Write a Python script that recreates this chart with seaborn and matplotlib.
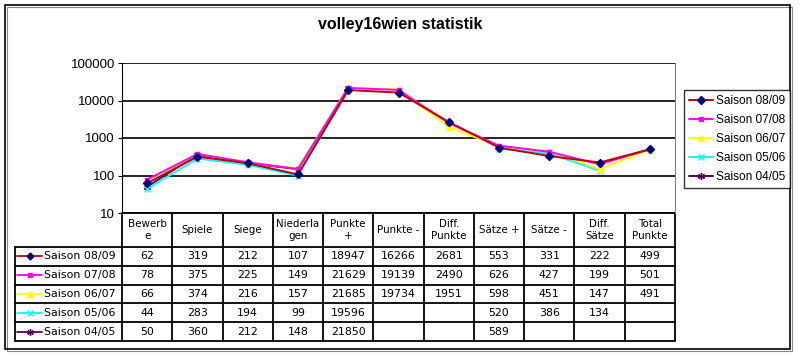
import matplotlib
matplotlib.use("Agg")
import matplotlib.pyplot as plt
from matplotlib.lines import Line2D
from matplotlib.patches import Rectangle
import seaborn as sns
import numpy as np
import pandas as pd

categories = ["Bewerbe", "Spiele", "Siege", "Niederlagen", "Punkte +", "Punkte -",
              "Diff. Punkte", "Sätze +", "Sätze -", "Diff. Sätze", "Total Punkte"]
header_labels = ["Bewerb\ne", "Spiele", "Siege", "Niederla\ngen", "Punkte\n+", "Punkte -",
                 "Diff.\nPunkte", "Sätze +", "Sätze -", "Diff.\nSätze", "Total\nPunkte"]
seasons = ["Saison 08/09", "Saison 07/08", "Saison 06/07", "Saison 05/06", "Saison 04/05"]
s0809 = [62, 319, 212, 107, 18947, 16266, 2681, 553, 331, 222, 499]
s0708 = [78, 375, 225, 149, 21629, 19139, 2490, 626, 427, 199, 501]
s0607 = [66, 374, 216, 157, 21685, 19734, 1951, 598, 451, 147, 491]
s0506 = [44, 283, 194, 99, 19596, np.nan, np.nan, 520, 386, 134, np.nan]
s0405 = [50, 360, 212, 148, 21850, np.nan, np.nan, 589, np.nan, np.nan, np.nan]
ytick_vals = [10, 100, 1000, 10000, 100000]
ytick_labels = ["10", "100", "1000", "10000", "100000"]

df = pd.DataFrame([s0809, s0708, s0607, s0506, s0405], index=seasons, columns=categories)

# line colour, marker colour, marker, size
styles = {
    "Saison 08/09": ("#C00000", "#000080", "D", 3.8),
    "Saison 07/08": ("#FF00FF", "#FF00FF", "s", 3.5),
    "Saison 06/07": ("#FFFF00", "#FFFF00", "^", 4.2),
    "Saison 05/06": ("#00FFFF", "#00FFFF", "x", 4),
    "Saison 04/05": ("#550055", "#550055", (6, 2, 0), 5),
}

sns.set_style("white")
plt.rcParams["font.family"] = ["Liberation Sans", "DejaVu Sans"]
plt.rcParams["text.color"] = "black"
plt.rcParams["ytick.color"] = "black"

W, H = 800, 356
fig = plt.figure(figsize=(W / 100, H / 100), dpi=100)

# overlay in pixel coordinates for frame, table, legend keys
ov = fig.add_axes([0, 0, 1, 1])
ov.set_xlim(0, W)
ov.set_ylim(H, 0)
ov.axis("off")
ov.add_patch(Rectangle((5, 5), 785, 344, fill=False, ec="black", lw=1.2))
ov.add_patch(Rectangle((7, 7), 785, 344, fill=False, ec="#888888", lw=0.8, zorder=0))

left, right, top, bottom = 122, 675, 63, 213
ax = fig.add_axes([left / W, 1 - bottom / H, (right - left) / W, (bottom - top) / H])
ax.set_zorder(2)
ax.patch.set_alpha(0)

x = np.arange(len(categories))
for s in seasons[::-1]:
    lc, mc, mk, ms = styles[s]
    ax.plot(x, df.loc[s].values, color=lc, lw=1.4, marker=mk, ms=ms,
            mfc=mc, mec=mc, mew=1.0, label=s)

ax.set_yscale("log")
ax.set_ylim(10, 100000)
ax.set_xlim(-0.5, len(categories) - 0.5)
ax.set_yticks(ytick_vals)
ax.set_yticklabels(ytick_labels)
ax.minorticks_off()
ax.set_xticks([])
ax.tick_params(axis="y", labelsize=9.5, length=3, direction="out", left=True, pad=2,
               labelcolor="black")
for v in ytick_vals:
    ax.axhline(v, color="black", lw=1.2, zorder=1)
for side in ["top", "bottom"]:
    ax.spines[side].set_visible(False)
ax.spines["left"].set_color("black")
ax.spines["right"].set_color("#808080")

fig.text(400 / W, 1 - 25 / H, "volley16wien statistik", ha="center", va="center",
         fontsize=11.5, fontweight="bold", color="black")

# legend
handles = []
for s in seasons:
    lc, mc, mk, ms = styles[s]
    handles.append(Line2D([], [], color=lc, lw=1.4, marker=mk, ms=ms, mfc=mc, mec=mc, mew=1.0))
leg = fig.legend(handles, seasons, loc="upper left", bbox_to_anchor=(684 / W, 1 - 90 / H),
                 frameon=True, fancybox=False, edgecolor="black", fontsize=8.6,
                 handlelength=2.0, handletextpad=0.2, borderpad=0.45, labelspacing=0.58,
                 borderaxespad=0)
leg.get_frame().set_linewidth(1.0)

# data table
col_edges = np.linspace(left, right, len(categories) + 1)
row_top = bottom
head_bot = 247
row_h = 18.8
row_edges = [head_bot + i * row_h for i in range(len(seasons) + 1)]
tab_left = 15
lw_t = 1.3
ov.plot([left, right], [row_top, row_top], color="black", lw=lw_t)
for ce in col_edges:
    ov.plot([ce, ce], [row_top, row_edges[-1]], color="black", lw=lw_t)
for re_ in row_edges:
    ov.plot([tab_left, right], [re_, re_], color="black", lw=lw_t)
ov.plot([tab_left, tab_left], [row_edges[0], row_edges[-1]], color="black", lw=lw_t)

tfont = ["DejaVu Sans"]
for j, lab in enumerate(header_labels):
    cx = (col_edges[j] + col_edges[j + 1]) / 2
    ov.text(cx, (row_top + head_bot) / 2, lab, ha="center", va="center",
            fontsize=7.4, family=tfont, linespacing=1.25)

for i, s in enumerate(seasons):
    cy = (row_edges[i] + row_edges[i + 1]) / 2
    lc, mc, mk, ms = styles[s]
    ov.plot([17, 42], [cy, cy], color=lc, lw=1.3)
    ov.plot([29.5], [cy], marker=mk, ms=ms - 0.3, mfc=mc, mec=mc, mew=1.0, color=lc)
    ov.text(44, cy, s, ha="left", va="center", fontsize=7.9, family=tfont)
    for j, c in enumerate(categories):
        v = df.loc[s, c]
        if not np.isnan(v):
            cx = (col_edges[j] + col_edges[j + 1]) / 2
            ov.text(cx, cy, str(int(v)), ha="center", va="center", fontsize=7.9, family=tfont)

fig.savefig("out.png", dpi=100)
